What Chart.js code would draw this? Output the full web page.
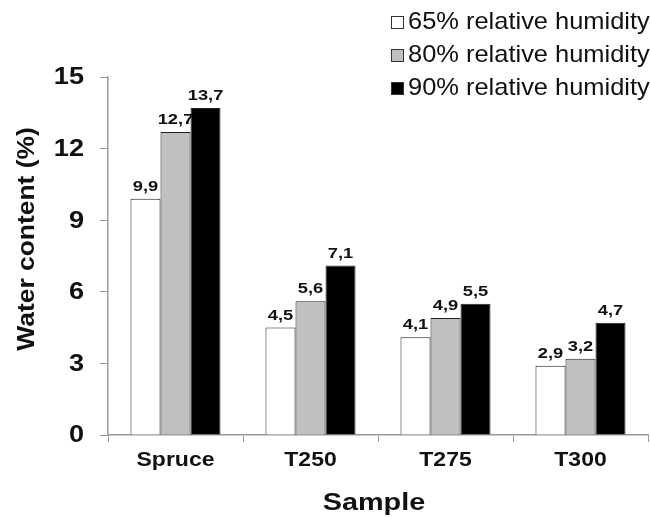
<!DOCTYPE html>
<html>
<head>
<meta charset="utf-8">
<script src="https://cdn.jsdelivr.net/npm/chart.js@4"></script>
<style>
  html, body { margin: 0; padding: 0; background: #fff; }
  #wrap { width: 650px; height: 518px; }
</style>
</head>
<body>
<div id="wrap"><canvas id="myChart" width="650" height="518"></canvas></div>
<script>
const samples = ['Spruce', 'T250', 'T275', 'T300'];
const seriesLabels = ['65% relative humidity', '80% relative humidity', '90% relative humidity'];
const rh65 = [9.9, 4.5, 4.1, 2.9];
const rh80 = [12.7, 5.6, 4.9, 3.2];
const rh90 = [13.7, 7.1, 5.5, 4.7];
const yTicks = [0, 3, 6, 9, 12, 15];
const xTitle = 'Sample';
const yTitle = 'Water content (%)';

const fillColors = ['#ffffff', '#c0c0c0', '#000000'];
const FONT = '"Liberation Sans", Arial, sans-serif';
const TEXT = '#111';

// the original text is a wide Arial, so stretch it horizontally
function wideText(ctx, txt, x, y, sx, align, font, rot) {
    ctx.save();
    ctx.font = font;
    ctx.textAlign = align;
    ctx.translate(x, y);
    if (rot) ctx.rotate(rot);
    ctx.scale(sx, 1);
    ctx.fillText(txt, 0, 0);
    ctx.restore();
}

// tick labels, axis titles and value labels
const textLayer = {
    id: 'textLayer',
    afterDraw(chart) {
        const ctx = chart.ctx;
        const xs = chart.scales.x, ys = chart.scales.y;
        ctx.save();
        ctx.fillStyle = TEXT;

        ctx.textBaseline = 'middle';
        yTicks.forEach(v => {
            wideText(ctx, String(v), 84, ys.getPixelForValue(v) + 1, 1.18, 'right', 'bold 23px ' + FONT);
        });

        ctx.textBaseline = 'alphabetic';
        samples.forEach((s, i) => {
            wideText(ctx, s, xs.getPixelForValue(i), 466, 1.15, 'center', 'bold 20px ' + FONT);
        });

        const cx = (chart.chartArea.left + chart.chartArea.right) / 2 - 4;
        wideText(ctx, xTitle, cx, 510, 1.2, 'center', 'bold 24px ' + FONT);
        wideText(ctx, yTitle, 34, 239, 1.1, 'center', 'bold 24px ' + FONT, -Math.PI / 2);

        chart.data.datasets.forEach((ds, i) => {
            chart.getDatasetMeta(i).data.forEach((bar, j) => {
                const txt = ds.data[j].toFixed(1).replace('.', ',');
                wideText(ctx, txt, bar.x, bar.y - 8, 1.22, 'center', 'bold 15px ' + FONT);
            });
        });

        // legend, top right corner
        chart.data.datasets.forEach((ds, i) => {
            const base = 29 + i * 33;
            ctx.fillStyle = ds.backgroundColor;
            ctx.fillRect(391, base - 13, 13, 13);
            ctx.strokeStyle = '#333';
            ctx.lineWidth = 1;
            ctx.strokeRect(391.5, base - 12.5, 12, 12);
            ctx.fillStyle = TEXT;
            wideText(ctx, ds.label, 408, base, 1.06, 'left', '24px ' + FONT);
        });
        ctx.restore();
    }
};

const ctx = document.getElementById('myChart').getContext('2d');
const myChart = new Chart(ctx, {
    type: 'bar',
    data: {
        labels: samples,
        datasets: [rh65, rh80, rh90].map((vals, i) => ({
            label: seriesLabels[i],
            data: vals,
            backgroundColor: fillColors[i],
            borderColor: '#222',
            borderWidth: 1,
            categoryPercentage: 0.667,
            barPercentage: 1.0
        }))
    },
    options: {
        responsive: false,
        animation: false,
        layout: { padding: { top: 77, right: 2, left: 0, bottom: 0 } },
        plugins: {
            legend: { display: false },
            tooltip: { enabled: false }
        },
        scales: {
            x: {
                grid: {
                    offset: true,
                    drawOnChartArea: false,
                    drawTicks: true,
                    tickLength: 7,
                    color: '#999'
                },
                border: { color: '#999', width: 1.5 },
                ticks: { display: false },
                afterFit(scale) { scale.height = 83; }
            },
            y: {
                min: 0,
                max: 15,
                afterBuildTicks(scale) { scale.ticks = yTicks.map(v => ({ value: v })); },
                grid: {
                    drawOnChartArea: false,
                    drawTicks: true,
                    tickLength: 8,
                    color: '#999'
                },
                border: { color: '#999', width: 1.5 },
                ticks: { display: false },
                afterFit(scale) { scale.width = 108; }
            }
        }
    },
    plugins: [textLayer]
});
</script>
</body>
</html>
